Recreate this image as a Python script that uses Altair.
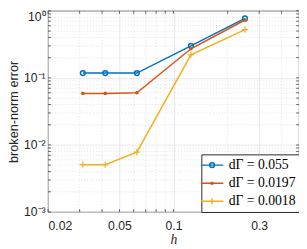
import altair as alt
import pandas as pd

# ---- data ----
h = [1/32, 1/24, 1/16, 1/8, 1/4]
err_055 = [0.118, 0.118, 0.118, 0.30, 0.77]
err_0197 = [0.0586, 0.0586, 0.060, 0.272, 0.73]
err_0018 = [0.00508, 0.00508, 0.00783, 0.22, 0.525]
labels = ["dΓ = 0.055", "dΓ = 0.0197", "dΓ = 0.0018"]
colors = ["#0072BD", "#D95319", "#EDB120"]

x_ticks = [0.02, 0.05, 0.1, 0.3]
x_minor = [0.03, 0.04, 0.06, 0.07, 0.08, 0.09, 0.2, 0.4]
y_ticks = [0.001, 0.01, 0.1, 1]
y_minor = [k * 10.0 ** e for e in (-3, -2, -1) for k in range(2, 10)]

W, H = 257, 206
AX = "#262626"

df = pd.DataFrame({
    "h": h * 3,
    "err": err_055 + err_0197 + err_0018,
    "series": [lab for lab in labels for _ in h],
})

xscale = alt.Scale(type="log", domain=[0.02, 0.5], nice=False)
yscale = alt.Scale(type="log", domain=[0.001, 1], nice=False)

xaxis = alt.Axis(values=x_ticks, format="~g", title="h", grid=True, ticks=False,
                 domain=False, labelPadding=8, titleFont="Liberation Serif",
                 titleFontStyle="italic", titleFontWeight="normal", titleFontSize=14,
                 titlePadding=1)
yaxis = alt.Axis(values=y_ticks,
                 labelExpr="datum.value >= 1 ? '10⁰' : datum.value >= 0.1 ? '10⁻¹' : datum.value >= 0.01 ? '10⁻²' : '10⁻³'",
                 labelBaseline={"condition": {"test": "datum.value >= 1", "value": "top"},
                                "value": "middle"},
                 title="broken-norm error", grid=True, ticks=False, domain=False,
                 labelPadding=3, titlePadding=3, titleFontWeight="normal", titleFontSize=13)

grid_style = dict(color="#d4d4d4", strokeDash=[1, 2], strokeWidth=0.7)
gx = alt.Chart(pd.DataFrame({"v": x_minor})).mark_rule(**grid_style).encode(
    x=alt.X("v:Q", scale=xscale, axis=xaxis))
gy = alt.Chart(pd.DataFrame({"v": y_minor})).mark_rule(**grid_style).encode(
    y=alt.Y("v:Q", scale=yscale, axis=yaxis))

layers = [gx, gy]

# inward ticks on all four sides
tick_style = dict(color=AX, strokeWidth=0.7)
xt = pd.DataFrame({"v": x_ticks + x_minor})
yt = pd.DataFrame({"v": y_ticks + y_minor})
for y0, y1 in ((H, H - 3), (0, 3)):
    layers.append(alt.Chart(xt).mark_rule(**tick_style).encode(
        x=alt.X("v:Q", scale=xscale, axis=xaxis), y=alt.value(y0), y2=alt.value(y1)))
for x0, x1 in ((0, 3), (W, W - 3)):
    layers.append(alt.Chart(yt).mark_rule(**tick_style).encode(
        y=alt.Y("v:Q", scale=yscale, axis=yaxis), x=alt.value(x0), x2=alt.value(x1)))

plus_path = "M-1,0L1,0M0,-1L0,1"
marker_specs = [
    dict(shape="circle", filled=False, size=24, strokeWidth=1.5),
    dict(shape="circle", filled=True, size=14, strokeWidth=0),
    dict(shape=plus_path, filled=False, size=40, strokeWidth=1.2),
]
for lab, col, ms in zip(labels, colors, marker_specs):
    base = alt.Chart(df).transform_filter(alt.datum.series == lab)
    layers.append(base.mark_line(color=col, strokeWidth=1.5).encode(
        x=alt.X("h:Q", scale=xscale, axis=xaxis),
        y=alt.Y("err:Q", scale=yscale, axis=yaxis)))
    layers.append(base.mark_point(color=col, opacity=1, **ms).encode(
        x=alt.X("h:Q", scale=xscale, axis=xaxis),
        y=alt.Y("err:Q", scale=yscale, axis=yaxis)))

# legend (line + marker symbols)
L = 2.3
leg_paths = [
    f"M-{L},0L{L},0M0.5,0A0.5,0.5,0,1,1,-0.5,0A0.5,0.5,0,1,1,0.5,0",
    f"M-{L},0L{L},0M0.22,0A0.22,0.22,0,1,1,-0.22,0A0.22,0.22,0,1,1,0.22,0",
    f"M-{L},0L{L},0M0,-0.6L0,0.6",
]
leg = alt.Legend(title=None, orient="none", legendX=157, legendY=147,
                 fillColor="white", strokeColor=AX, padding=4,
                 labelFont="Liberation Serif", labelFontSize=14, labelColor="black",
                 symbolSize=100, symbolStrokeWidth=1.5, labelOffset=10, rowPadding=4.5,
                 symbolOpacity=1)
legend_layer = alt.Chart(df).transform_filter("false").mark_point(
    filled=False, strokeWidth=1.5, opacity=1).encode(
    x=alt.X("h:Q", scale=xscale, axis=xaxis),
    y=alt.Y("err:Q", scale=yscale, axis=yaxis),
    color=alt.Color("series:N", scale=alt.Scale(domain=labels, range=colors), legend=leg),
    shape=alt.Shape("series:N", scale=alt.Scale(domain=labels, range=leg_paths), legend=leg),
)
layers.append(legend_layer)

chart = alt.layer(*layers).properties(
    width=W, height=H,
    autosize=alt.AutoSizeParams(type="none"),
    padding={"left": 41, "top": 0, "right": 0, "bottom": 35},
).configure_view(stroke=AX, strokeWidth=0.8).configure_axis(
    labelFont="Liberation Sans", labelFontSize=12.5, labelColor=AX,
    titleFont="Liberation Sans", titleColor=AX,
    gridColor="#dedede", gridWidth=0.7,
)

chart.save("out.html", embed_options={"renderer": "svg", "actions": False})
